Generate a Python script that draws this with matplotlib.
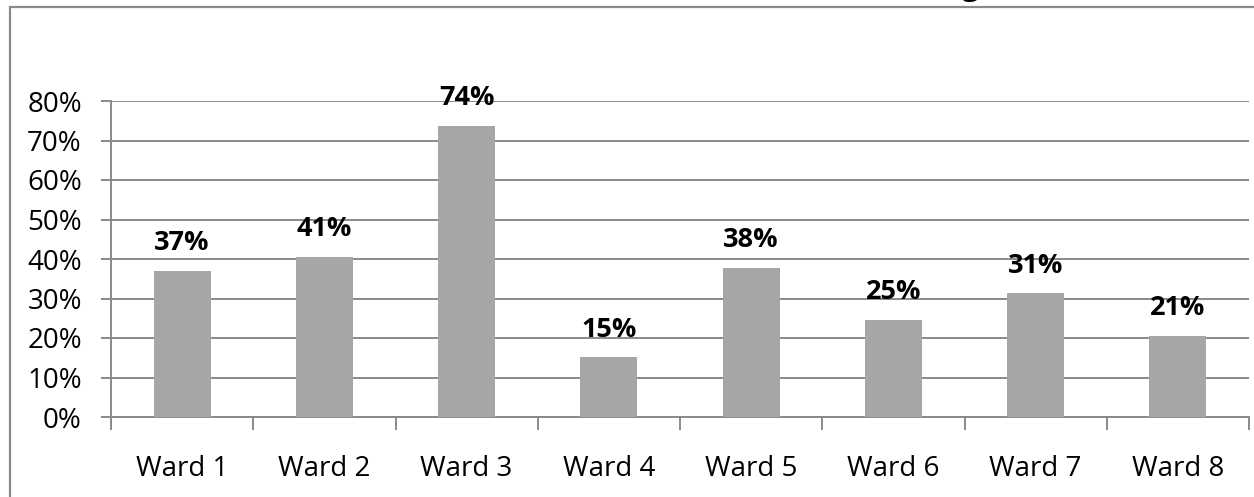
import numpy as np
import matplotlib
matplotlib.use("Agg")
import matplotlib.pyplot as plt
from matplotlib.patches import Rectangle
from matplotlib.ticker import PercentFormatter, FixedLocator

wards = ["Ward 1", "Ward 2", "Ward 3", "Ward 4", "Ward 5", "Ward 6", "Ward 7", "Ward 8"]
shares = [0.370, 0.405, 0.737, 0.151, 0.377, 0.246, 0.313, 0.206]
value_labels = ["37%", "41%", "74%", "15%", "38%", "25%", "31%", "21%"]

plt.rcParams['font.family'] = ['Open Sans', 'DejaVu Sans']
GRID = '#8a8a8a'

fig = plt.figure(figsize=(12.54, 4.97), dpi=100)
W, H = 1254, 497
# axes box in pixels: x 111..1249, y(top) 101..417
ax = fig.add_axes([111 / W, 1 - 417 / H, (1249 - 111) / W, (417 - 101) / H])

x = np.arange(len(wards))
ax.bar(x, shares, width=0.4, color='#a6a6a6', zorder=3)

for xi, v, lab in zip(x, shares, value_labels):
    ax.annotate(lab, (xi, v), xytext=(0, 15), textcoords='offset points',
                ha='center', va='baseline', fontsize=19.5, fontweight='bold',
                color='black', zorder=4, annotation_clip=False)

ax.set_xlim(-0.5, len(wards) - 0.5)
ax.set_ylim(0, 0.8)
ax.yaxis.set_major_locator(FixedLocator(np.arange(0, 0.81, 0.1)))
ax.yaxis.set_major_formatter(PercentFormatter(1.0, decimals=0))
ax.grid(axis='y', color=GRID, linewidth=1.4, zorder=0)

# category ticks at boundaries, labels centered
ax.set_xticks(np.arange(-0.5, len(wards), 1.0))
ax.set_xticklabels([])
ax.set_xticks(x, minor=True)
ax.set_xticklabels(wards, minor=True)
ax.tick_params(axis='x', which='major', length=9, width=1.4, color=GRID, direction='out')
ax.tick_params(axis='x', which='minor', length=0, pad=27, labelsize=20)
ax.tick_params(axis='y', length=7, width=1.4, color=GRID, direction='out', pad=14, labelsize=20)

for side in ['top', 'right']:
    ax.spines[side].set_visible(False)
for side in ['left', 'bottom']:
    ax.spines[side].set_color(GRID)
    ax.spines[side].set_linewidth(1.4)

# chart-area frame (cropped on right and bottom)
fig.patches.append(Rectangle((10 / W, -0.1), 2.0, 1.1 - 7 / H, transform=fig.transFigure,
                             fill=False, edgecolor=GRID, linewidth=1.6, figure=fig))

# title sits above the crop, only the tail of the "g" shows
fig.text(970 / W, 1 + 5 / H, "g", ha='center', va='baseline', fontsize=22,
         fontweight='bold', color='black')

fig.savefig("out.png", dpi=100)
